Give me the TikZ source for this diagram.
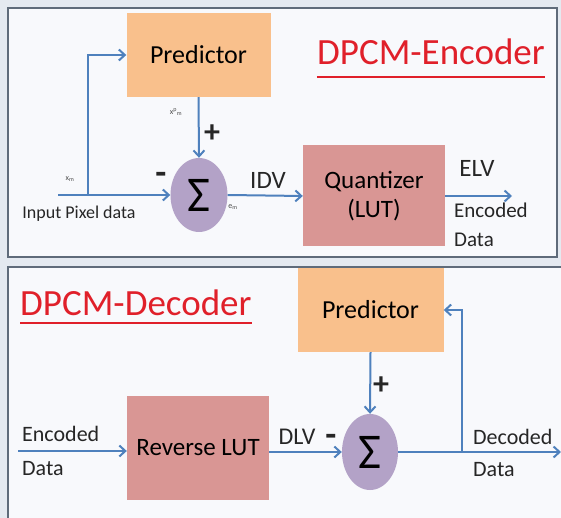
\documentclass[tikz,border=0pt]{standalone}
\usepackage{fontspec}
\setmainfont{Carlito}
\usepackage{tikz}
\usetikzlibrary{arrows.meta,shapes}
\definecolor{predorange}{HTML}{F9C08C}
\definecolor{lutrose}{HTML}{D99694}
\definecolor{sumlilac}{HTML}{B3A2C7}
\definecolor{flowblue}{HTML}{4F81BD}
\definecolor{titlered}{HTML}{E0202A}
\definecolor{panelgray}{HTML}{5F6B7A}
\definecolor{panelfill}{HTML}{F8F9FC}
\definecolor{pagefill}{HTML}{E4E9F0}
\newcommand{\fsz}[1]{\fontsize{#1}{#1}\selectfont}
\tikzstyle{panel}=[draw=panelgray, fill=panelfill, line width=1.8pt]
\tikzstyle{predictor}=[fill=predorange, inner sep=0pt, minimum width=144pt, minimum height=84pt, font=\fsz{26}]
\tikzstyle{lut}=[fill=lutrose, inner sep=0pt, align=center, font=\fsz{25}]
\tikzstyle{adder}=[ellipse, fill=sumlilac, inner sep=0pt, minimum width=57pt, minimum height=74pt, font=\fsz{50}]
\tikzstyle{signal}=[draw=flowblue, line width=2pt, -{Straight Barb[length=6pt,width=11pt]}]
\tikzstyle{wire}=[draw=flowblue, line width=2pt]
\tikzstyle{heading}=[text=titlered, inner sep=0pt, font=\fsz{37}]
\tikzstyle{headline}=[draw=titlered, line width=2pt]
\tikzstyle{note}=[inner sep=0pt, align=left, text=black!85]
\tikzstyle{sign}=[inner sep=0pt, font=\fsz{36}\bfseries, text=black!85]
\tikzstyle{plus sign}=[inner sep=0pt, font=\fsz{32}\bfseries, text=black!85]
\tikzstyle{tiny note}=[inner sep=0pt, font=\fsz{8}, text=black!70]

\begin{document}
\begin{tikzpicture}[x=1pt, y=-1pt]
	\clip (0,0) rectangle (561,518);
	\fill[pagefill] (0,0) rectangle (561,518);
	% the two panels
	\path[panel] (8,8) rectangle (557,257);
	\path[panel] (8,267) rectangle (575,530);

	% Encoder blocks
	\node[predictor] (predenc) at (198.5,55) {Predictor};
	\node[adder] (sumenc) at (199,195) {Σ};
	\node[lut, minimum width=142pt, minimum height=101pt] (quant) at (374,196) {Quantizer\\[4pt](LUT)};
	\node[heading, anchor=base] (enctitle) at (431,65) {DPCM-Encoder};
	\path[headline] ([yshift=-12pt]enctitle.base west) -- ([yshift=-12pt]enctitle.base east);

	\coordinate (xin) at (58,195);
	\coordinate (tapenc) at (88,195);
	\coordinate (elvout) at (512,196);

	% Encoder connections
	\path[wire] (xin) -- (tapenc);
	\path[signal] (tapenc) -- (sumenc.west);
	\path[signal] (tapenc) |- (predenc.west);
	\path[signal] (predenc.south) -- (sumenc.north);
	\path[signal] (sumenc.east) -- (quant.west);
	\path[signal] (quant.east) -- (elvout);

	% Encoder labels
	\node[tiny note] (xmlab) at (70,179) {x\textsubscript{m}};
	\node[note, font=\fsz{18}] (inlab) at (79,214) {Input Pixel data};
	\node[sign] (minenc) at (161,178) {-};
	\node[tiny note] (xplab) at (176,112) {x\textsuperscript{p}\textsubscript{m}};
	\node[plus sign] (plusenc) at (212,134) {+};
	\node[tiny note] (emlab) at (233,207) {e\textsubscript{m}};
	\node[note, font=\fsz{25}] (idvlab) at (268,180) {IDV};
	\node[note, font=\fsz{25}] (elvlab) at (477,168) {ELV};
	\node[note, font=\fsz{21}, anchor=west] (enclab) at (454,210) {Encoded};
	\node[note, font=\fsz{21}, anchor=west] (datalab) at (454,240) {Data};

	% Decoder blocks
	\node[predictor, minimum width=146pt] (preddec) at (370.5,310) {Predictor};
	\node[adder, minimum width=56pt, minimum height=76pt] (sumdec) at (370,452) {Σ};
	\node[lut, minimum width=142pt, minimum height=104pt] (revlut) at (198,448) {Reverse LUT};
	\node[heading, anchor=base west] (dectitle) at (20,315) {DPCM-Decoder};
	\path[headline] ([yshift=-8pt]dectitle.base west) -- ([yshift=-8pt]dectitle.base east);

	\coordinate (encin) at (18,451);
	\coordinate (tapdec) at (462,452);
	\coordinate (decout) at (561,452);

	% Decoder connections
	\path[signal] (encin) -- (encin -| revlut.west);
	\path[signal] (revlut.east |- sumdec.west) -- (sumdec.west);
	\path[wire] (sumdec.east) -- (tapdec);
	\path[signal] (tapdec) -- (decout);
	\path[signal] (tapdec) |- (preddec.east);
	\path[signal] (preddec.south) -- (sumdec.north);

	% Decoder labels
	\node[note, font=\fsz{22}, anchor=west] (encdlab) at (22,434) {Encoded};
	\node[note, font=\fsz{22}, anchor=west] (datadlab) at (22,469) {Data};
	\node[note, font=\fsz{24}] (dlvlab) at (297,437) {DLV};
	\node[sign] (mindec) at (331,440) {-};
	\node[plus sign] (plusdec) at (381,386) {+};
	\node[note, font=\fsz{22}, anchor=west] (decdlab) at (473,437) {Decoded};
	\node[note, font=\fsz{22}, anchor=west] (decdata) at (473,470) {Data};
\end{tikzpicture}
\end{document}
